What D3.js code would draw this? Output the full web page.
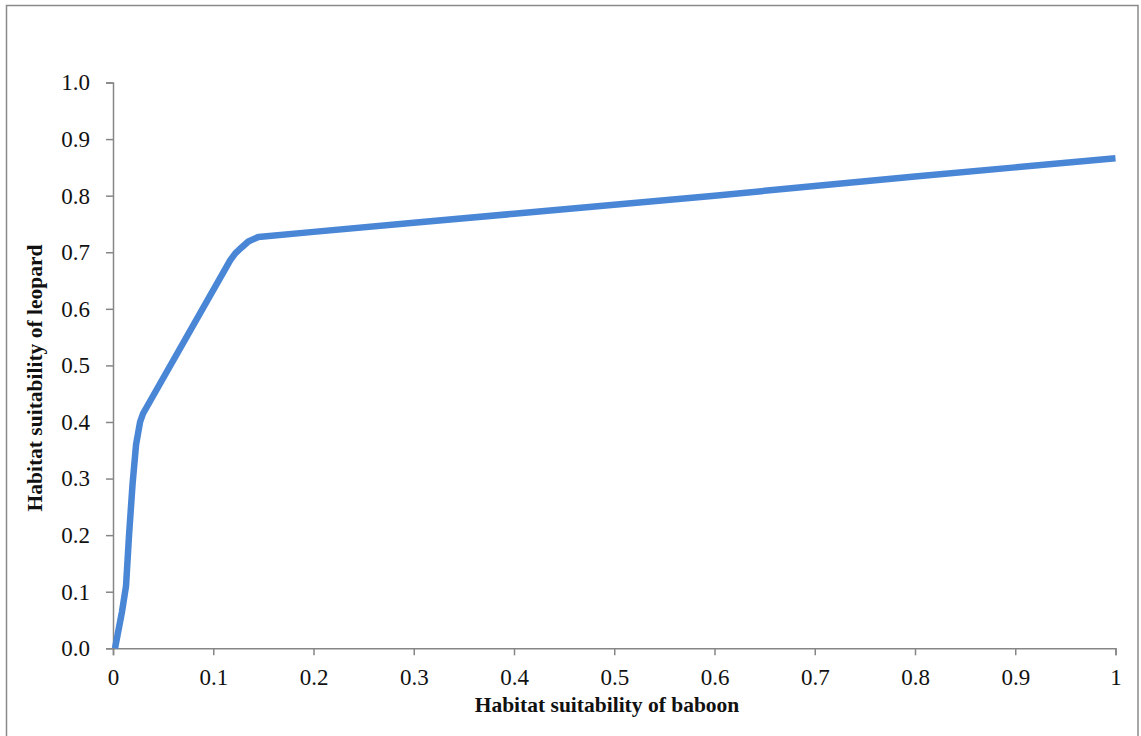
<!DOCTYPE html>
<html>
<head>
<meta charset="utf-8">
<script src="https://cdn.jsdelivr.net/npm/d3@7"></script>
<style>
  html, body { margin: 0; padding: 0; background: #fff; }
  text { font-family: "Liberation Serif", "Times New Roman", serif; fill: #111; }
</style>
</head>
<body>
<div id="chart"></div>
<script>
// values
const baboon  = [0.002, 0.009, 0.013, 0.016, 0.0195, 0.023, 0.027, 0.030, 0.117, 0.122, 0.128, 0.135, 0.145, 0.2, 0.3, 0.4, 0.5, 0.6, 0.7, 0.8, 0.9, 1.0];
const leopard = [0.0,   0.065, 0.11,  0.20,  0.29,   0.36,  0.40,  0.415, 0.686, 0.698, 0.708, 0.719, 0.727, 0.736, 0.752, 0.768, 0.784, 0.800, 0.817, 0.834, 0.850, 0.866];
const xTicks = [0, 0.1, 0.2, 0.3, 0.4, 0.5, 0.6, 0.7, 0.8, 0.9, 1];
const yTicks = [0, 0.1, 0.2, 0.3, 0.4, 0.5, 0.6, 0.7, 0.8, 0.9, 1.0];
const xTitle = "Habitat suitability of baboon";
const yTitle = "Habitat suitability of leopard";

const width = 1141, height = 736;
const margin = {top: 82.5, right: 25.5, bottom: 87.7, left: 113};
const innerW = width - margin.left - margin.right;
const innerH = height - margin.top - margin.bottom;

const serif = '"Liberation Serif", "Times New Roman", serif';

const svg = d3.select("#chart")
    .append("svg")
    .attr("width", width)
    .attr("height", height);

// outer frame
svg.append("rect")
    .attr("x", 6.5).attr("y", 5.5)
    .attr("width", 1131.5).attr("height", 740)
    .attr("fill", "none")
    .attr("stroke", "#8a8a8a")
    .attr("stroke-width", 1.5);

const g = svg.append("g")
    .attr("transform", "translate(" + margin.left + "," + margin.top + ")");

const x = d3.scaleLinear().domain([0, 1]).range([0, innerW]);
const y = d3.scaleLinear().domain([0, 1]).range([innerH, 0]);

// axes
const xAxis = g.append("g")
    .attr("transform", "translate(0," + innerH + ")")
    .call(d3.axisBottom(x).tickValues(xTicks).tickSizeOuter(0).tickSize(7).tickPadding(13)
        .tickFormat(d => d === 0 ? "0" : d === 1 ? "1" : d3.format(".1f")(d)));
const yAxis = g.append("g")
    .call(d3.axisLeft(y).tickValues(yTicks).tickSizeOuter(0).tickSize(7).tickPadding(16)
        .tickFormat(d3.format(".1f")));

[xAxis, yAxis].forEach(a => {
    a.attr("font-family", serif).attr("font-size", 23);
    a.select(".domain").attr("stroke", "#868686").attr("stroke-width", 1.5);
    a.selectAll(".tick line").attr("stroke", "#868686").attr("stroke-width", 1.5);
    a.selectAll(".tick text").attr("fill", "#111");
});

// the curve
const pts = baboon.map((b, i) => [b, leopard[i]]);
g.append("path")
    .datum(pts)
    .attr("fill", "none")
    .attr("stroke", "#4a86d6")
    .attr("stroke-width", 6.5)
    .attr("stroke-linejoin", "round")
    .attr("d", d3.line()
        .x(d => x(d[0]))
        .y(d => y(d[1])));

// axis titles
svg.append("text")
    .attr("x", 607)
    .attr("y", 712)
    .attr("text-anchor", "middle")
    .style("font-size", "21.5px")
    .style("font-weight", "bold")
    .text(xTitle);

svg.append("text")
    .attr("transform", "translate(42,378) rotate(-90)")
    .attr("text-anchor", "middle")
    .style("font-size", "21.5px")
    .style("font-weight", "bold")
    .text(yTitle);
</script>
</body>
</html>
